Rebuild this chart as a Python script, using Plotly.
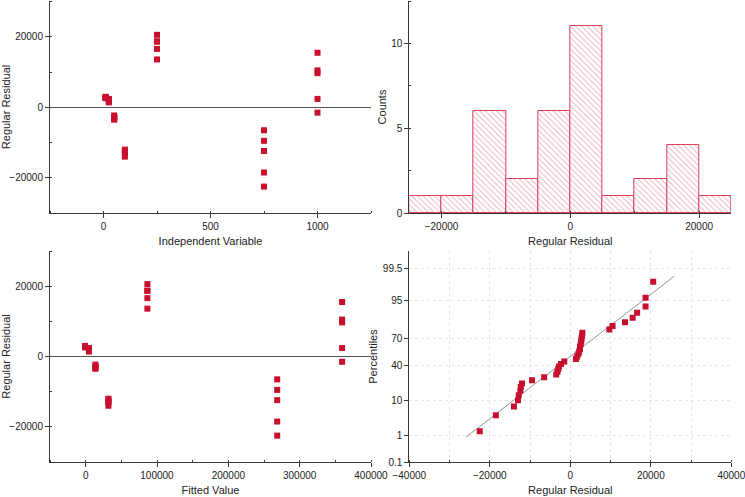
import plotly.graph_objects as go
from statistics import NormalDist, mean, stdev

# ---------------- data ----------------
indep_levels = [10, 25, 50, 100, 250, 750, 1000]
fitted_levels = [-900, 4600, 13700, 31900, 86500, 268500, 359500]
resid_by_level = [
    [3000, 2900, 2800, 2700, 2600],
    [2400, 2200, 2000, 1700, 1400],
    [-2300, -2800, -3000, -3200, -3500],
    [-12000, -12300, -12800, -13000, -14000],
    [20600, 18700, 18700, 16600, 13600],
    [-6500, -9500, -12400, -18500, -22500],
    [15500, 10500, 9700, 2400, -1500],
]
pct_ticks = [0.1, 1, 10, 40, 70, 95, 99.5]

indep = [x for x, rs in zip(indep_levels, resid_by_level) for _ in rs]
fitted = [f for f, rs in zip(fitted_levels, resid_by_level) for _ in rs]
resid = [r for rs in resid_by_level for r in rs]

nd = NormalDist()
n = len(resid)
sorted_res = sorted(resid)
qq_z = [nd.inv_cdf((i + 0.5) / n) for i in range(n)]
mu, sd = mean(resid), stdev(resid)
line_z = [-2.36, 2.36]
line_x = [mu + sd * z for z in line_z]

# ---------------- style ----------------
RED = "#C8102E"
AX = "#3a3a3a"
FONT = "Arial, Liberation Sans, sans-serif"

fig = go.Figure()

mk = dict(symbol="square", size=6, color=RED, line=dict(width=0))
fig.add_trace(go.Scatter(x=indep, y=resid, mode="markers", marker=mk,
                         xaxis="x", yaxis="y", showlegend=False))
fig.add_trace(go.Histogram(x=resid, xbins=dict(start=-25000, end=25000, size=5000),
                           marker=dict(color="white",
                                       line=dict(color="#d8405f", width=1),
                                       pattern=dict(shape="\\", fgcolor="#dc6a86",
                                                    bgcolor="white", size=4, solidity=0.25)),
                           xaxis="x2", yaxis="y2", showlegend=False))
fig.add_trace(go.Scatter(x=fitted, y=resid, mode="markers", marker=mk,
                         xaxis="x3", yaxis="y3", showlegend=False))
fig.add_trace(go.Scatter(x=line_x, y=line_z, mode="lines",
                         line=dict(color="#8a96a6", width=1),
                         xaxis="x4", yaxis="y4", showlegend=False))
fig.add_trace(go.Scatter(x=sorted_res, y=qq_z, mode="markers", marker=mk,
                         xaxis="x4", yaxis="y4", showlegend=False))

tickfont = dict(family=FONT, size=10, color="#222")
titlefont = dict(family=FONT, size=11, color="#222")
GRID = "#e6e6e6"


def ax(**kw):
    d = dict(showline=True, linecolor=AX, linewidth=1, ticks="outside", ticklen=4,
             tickcolor=AX, tickwidth=1, showgrid=False, zeroline=False,
             tickfont=tickfont, exponentformat="none", separatethousands=False,
             tickformat="d", automargin=False, ticklabeloverflow="allow")
    d.update(kw)
    return d


XL = [50 / 745, 371 / 745]
XR = [409.3 / 745, 731.3 / 745]
YT = [(497 - 213) / 497, (497 - 1) / 497]
YB = [(497 - 462) / 497, (497 - 251) / 497]

fig.update_layout(
    width=745, height=497, margin=dict(l=0, r=0, t=0, b=0, autoexpand=False),
    paper_bgcolor="white", plot_bgcolor="white", bargap=0,
    font=dict(family=FONT),
    xaxis=ax(domain=XL, anchor="y", range=[-250, 1250], dtick=500, tick0=0,
             minor=dict(dtick=250, ticks="inside", ticklen=2, tickcolor=AX),
             title=dict(text="Independent Variable", font=titlefont, standoff=6)),
    yaxis=ax(domain=YT, anchor="x", range=[-30000, 30200], dtick=20000, tick0=0,
             zeroline=True, zerolinecolor="#555", zerolinewidth=1,
             minor=dict(dtick=10000, ticks="inside", ticklen=2, tickcolor=AX),
             title=dict(text="Regular Residual", font=titlefont, standoff=0)),
    xaxis2=ax(domain=XR, anchor="y2", range=[-25000, 25000], dtick=20000, tick0=0,
              minor=dict(dtick=10000, ticks="inside", ticklen=2, tickcolor=AX),
              title=dict(text="Regular Residual", font=titlefont, standoff=6)),
    yaxis2=ax(domain=YT, anchor="x2", range=[0, 12.5], dtick=5, tick0=0,
              minor=dict(dtick=2.5, ticks="inside", ticklen=2, tickcolor=AX),
              title=dict(text="Counts", font=titlefont, standoff=2)),
    xaxis3=ax(domain=XL, anchor="y3", range=[-50000, 400000], dtick=100000, tick0=0,
              minor=dict(dtick=50000, ticks="inside", ticklen=2, tickcolor=AX),
              title=dict(text="Fitted Value", font=titlefont, standoff=6)),
    yaxis3=ax(domain=YB, anchor="x3", range=[-30000, 30000], dtick=20000, tick0=0,
              zeroline=True, zerolinecolor="#555", zerolinewidth=1,
              minor=dict(dtick=10000, ticks="inside", ticklen=2, tickcolor=AX),
              title=dict(text="Regular Residual", font=titlefont, standoff=0)),
    xaxis4=ax(domain=XR, anchor="y4", range=[-40000, 40000], dtick=20000, tick0=0,
              showgrid=True, gridcolor=GRID, griddash="dot", gridwidth=1,
              minor=dict(dtick=10000, ticks="inside", ticklen=2, tickcolor=AX,
                         showgrid=True, gridcolor=GRID, griddash="dot"),
              title=dict(text="Regular Residual", font=titlefont, standoff=6)),
    yaxis4=dict(domain=YB, anchor="x4", range=[nd.inv_cdf(0.001), nd.inv_cdf(0.999)],
                tickvals=[nd.inv_cdf(p / 100) for p in pct_ticks],
                ticktext=[f"{p:g}" for p in pct_ticks], automargin=False,
                showline=True, linecolor=AX, linewidth=1, ticks="outside", ticklen=4,
                tickcolor=AX, tickfont=tickfont, zeroline=False,
                showgrid=True, gridcolor=GRID, griddash="dot", gridwidth=1,
                title=dict(text="Percentiles", font=titlefont, standoff=2)),
)

fig.write_html("out.html", config={"displayModeBar": False},
               post_script="document.body.style.margin='0';document.body.style.padding='0';")
